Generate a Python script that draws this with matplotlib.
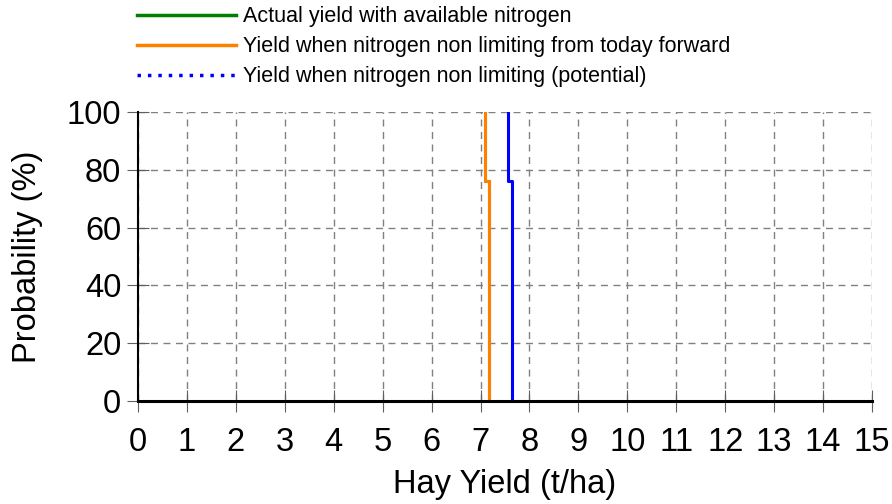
import matplotlib
matplotlib.use("Agg")
import matplotlib.pyplot as plt
from matplotlib.lines import Line2D

plt.rcParams['font.family'] = ['Liberation Sans', 'DejaVu Sans']

# probability of exceeding yield (step curves)
prob = [0, 76, 76, 100]
actual_yield = [7.18, 7.18, 7.10, 7.10]
nonlim_today_yield = [7.18, 7.18, 7.10, 7.10]
potential_yield = [7.64, 7.64, 7.56, 7.56]

labels = ["Actual yield with available nitrogen",
          "Yield when nitrogen non limiting from today forward",
          "Yield when nitrogen non limiting (potential)"]

fig = plt.figure(figsize=(8.92, 5.04), dpi=100)
ax = fig.add_axes([138 / 892, 1 - 401 / 504, (872 - 138) / 892, (401 - 112) / 504])

ax.plot(actual_yield, prob, color="#008000", lw=2.2)
ax.plot(nonlim_today_yield, prob, color="#ff8000", lw=2.2)
ax.plot(potential_yield, prob, color="#0000ff", lw=2.2)

ax.set_xlim(0, 15)
ax.set_ylim(0, 100)
ax.set_xticks(range(0, 16))
ax.set_yticks(range(0, 101, 20))
ax.grid(True, color="#808080", linestyle=(0, (5, 4)), lw=1)
ax.spines["top"].set_visible(False)
ax.spines["right"].set_visible(False)
ax.spines["left"].set_linewidth(1.5)
ax.spines["bottom"].set_linewidth(2.2)
ax.tick_params(axis="both", direction="inout", length=16, width=0.8,
               color="#606060", labelsize=23.5)
ax.tick_params(axis="x", pad=11)
ax.tick_params(axis="y", pad=4)
ax.set_xlabel("Hay Yield (t/ha)", fontsize=23.5, labelpad=8)
ax.set_ylabel("Probability (%)", fontsize=23.5, labelpad=17)

handles = [Line2D([], [], color="#008000", lw=2.5),
           Line2D([], [], color="#ff8000", lw=2.5),
           Line2D([], [], color="#0000ff", lw=2.5, linestyle=(0, (1, 2)))]
fig.legend(handles, labels, loc="upper left", bbox_to_anchor=(133 / 892, 1 - 2 / 504),
           frameon=False, fontsize=15.5, handlelength=4.6, handletextpad=0.33,
           labelspacing=0.42, borderaxespad=0, borderpad=0.2)

fig.savefig("out.png", dpi=100)
